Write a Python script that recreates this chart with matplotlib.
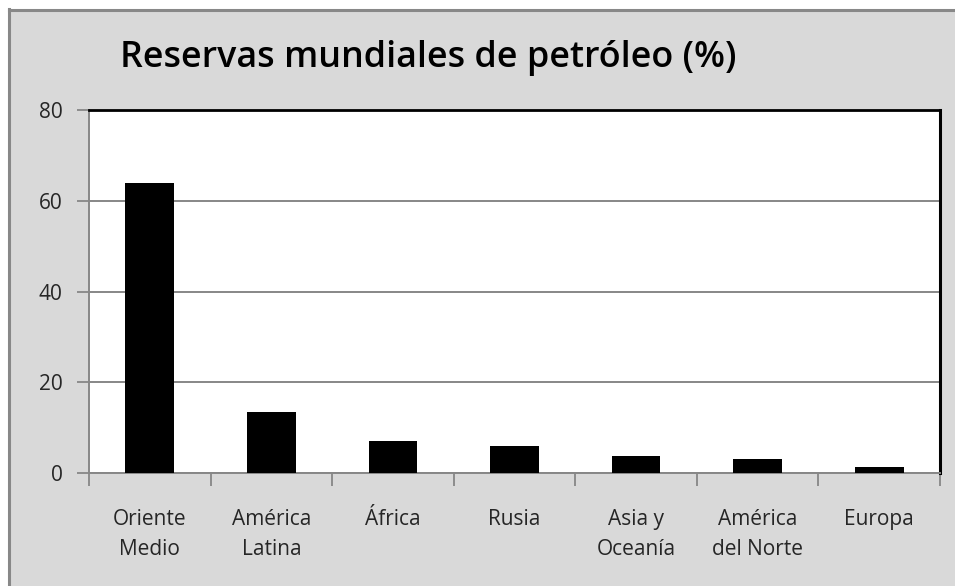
import matplotlib
matplotlib.use("Agg")
import matplotlib.pyplot as plt
from matplotlib.patches import Rectangle
from matplotlib.lines import Line2D

categories = ["Oriente\nMedio", "América\nLatina", "África", "Rusia",
              "Asia y\nOceanía", "América\ndel Norte", "Europa"]
values = [64.0, 13.5, 7.1, 6.0, 3.8, 3.1, 1.4]
yticks = [0, 20, 40, 60, 80]
title = "Reservas mundiales de petróleo (%)"

W, H = 955, 586
fig = plt.figure(figsize=(W / 100, H / 100), dpi=100)
fig.patch.set_facecolor("white")

# chart area background with gray frame
fig.patches.append(Rectangle((9 / W, 0), 1, 1 - 9 / H, transform=fig.transFigure,
                             facecolor="#d9d9d9", edgecolor="none", zorder=-10))
fig.lines.append(Line2D([8.5 / W, 8.5 / W], [0, 1 - 9 / H], transform=fig.transFigure,
                        color="#888888", lw=2.2, zorder=-5))
fig.lines.append(Line2D([8.5 / W, 1], [1 - 9.5 / H, 1 - 9.5 / H], transform=fig.transFigure,
                        color="#888888", lw=2.2, zorder=-5))

left, right, top, bottom = 89, 940, 110, 473
ax = fig.add_axes([left / W, 1 - bottom / H, (right - left) / W, (bottom - top) / H])
ax.set_facecolor("white")

x = list(range(len(categories)))
ax.bar(x, values, width=0.40, color="black", zorder=3)
ax.set_xlim(-0.5, len(categories) - 0.5)
ax.set_ylim(0, 80)
ax.set_yticks(yticks)
ax.yaxis.grid(True, color="#878787", lw=1.4, zorder=1)
ax.set_axisbelow(True)

ax.set_xticks([i - 0.5 for i in range(len(categories) + 1)])
ax.set_xticklabels([])
ax.set_xticks(x, minor=True)
ax.set_xticklabels(categories, minor=True, fontsize=15, family="Open Sans",
                   color="#262626", linespacing=1.55)
ax.tick_params(axis="x", which="minor", length=0, pad=26)
ax.tick_params(axis="x", which="major", length=9, width=1.3, color="#878787", direction="out")
ax.tick_params(axis="y", length=9, width=1.3, color="#878787", direction="out",
               labelsize=15, labelcolor="#262626", pad=10)
for lbl in ax.get_yticklabels():
    lbl.set_family("Open Sans")

ax.spines["left"].set_color("#878787")
ax.spines["left"].set_linewidth(1.4)
ax.spines["bottom"].set_color("#878787")
ax.spines["bottom"].set_linewidth(1.4)
ax.spines["top"].set_color("black")
ax.spines["top"].set_linewidth(2)
ax.spines["right"].set_color("black")
ax.spines["right"].set_linewidth(2.2)

fig.text(428 / W, 1 - 58 / H, title, ha="center", va="center", fontsize=25.8,
         fontweight="semibold", family="Open Sans", color="black")

fig.savefig("out.png", dpi=100)
